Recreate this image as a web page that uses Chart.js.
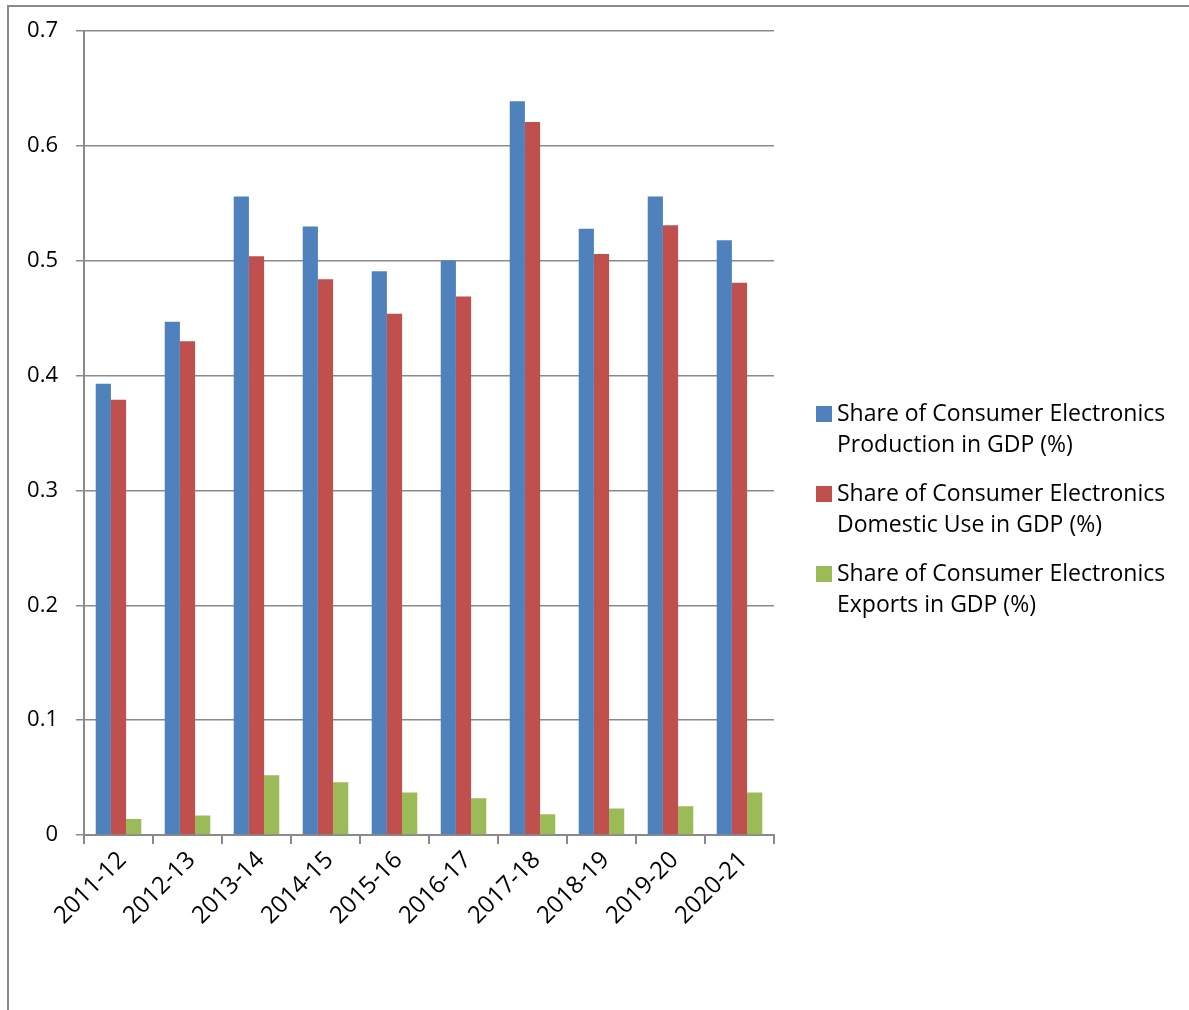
<!DOCTYPE html>
<html>
<head>
<meta charset="utf-8">
<script src="https://cdn.jsdelivr.net/npm/chart.js@4"></script>
<style>
  html, body { margin: 0; padding: 0; background: #fff; }
  #wrap { position: relative; width: 1189px; height: 1010px; overflow: hidden; }
  #frame {
    position: absolute; left: 7px; top: 5px; width: 1200px; height: 1100px;
    border-left: 2px solid #8a8a8a; border-top: 2px solid #8a8a8a;
  }
  canvas { position: absolute; left: 0; top: 0; }
</style>
</head>
<body>
<div id="wrap">
  <div id="frame"></div>
  <canvas id="chart" width="1189" height="1010"></canvas>
</div>
<script>
// categorías y series
const years = ['2011-12', '2012-13', '2013-14', '2014-15', '2015-16',
               '2016-17', '2017-18', '2018-19', '2019-20', '2020-21'];
const production = [0.393, 0.447, 0.556, 0.530, 0.491, 0.500, 0.639, 0.528, 0.556, 0.518];
const domesticUse = [0.379, 0.430, 0.504, 0.484, 0.454, 0.469, 0.621, 0.506, 0.531, 0.481];
const exportsGdp = [0.014, 0.017, 0.052, 0.046, 0.037, 0.032, 0.018, 0.023, 0.025, 0.037];
const legendLines = [
  ['Share of Consumer Electronics', 'Production in GDP (%)'],
  ['Share of Consumer Electronics', 'Domestic Use in GDP (%)'],
  ['Share of Consumer Electronics', 'Exports in GDP (%)']
];

const FONT = '"Open Sans", sans-serif';
const gridColor = '#8a8a8a';

// leyenda dibujada a mano a la derecha
const sideLegend = {
  id: 'sideLegend',
  afterDraw(chart) {
    const ctx = chart.ctx;
    ctx.save();
    ctx.font = '23px ' + FONT;
    ctx.textBaseline = 'middle';
    chart.data.datasets.forEach((ds, i) => {
      const y = 414 + i * 80;
      ctx.fillStyle = ds.backgroundColor;
      ctx.fillRect(816, y - 8, 16, 16);
      ctx.fillStyle = '#000';
      legendLines[i].forEach((line, j) => {
        ctx.fillText(line, 837, y + j * 31);
      });
    });
    ctx.restore();
  }
};

new Chart(document.getElementById('chart'), {
  type: 'bar',
  data: {
    labels: years,
    datasets: [
      { label: legendLines[0].join(' '), data: production, backgroundColor: '#4f81bd' },
      { label: legendLines[1].join(' '), data: domesticUse, backgroundColor: '#c0504d' },
      { label: legendLines[2].join(' '), data: exportsGdp, backgroundColor: '#9bbb59' }
    ]
  },
  options: {
    responsive: false,
    animation: false,
    layout: { padding: { top: 29, right: 415, bottom: 0, left: 0 } },
    datasets: { bar: { categoryPercentage: 0.66, barPercentage: 1 } },
    plugins: {
      legend: { display: false },
      tooltip: { enabled: false }
    },
    scales: {
      x: {
        afterFit: s => { s.height = 175; },
        grid: { drawOnChartArea: false, color: gridColor, lineWidth: 2, tickLength: 9 },
        border: { color: gridColor, width: 2 },
        ticks: {
          color: '#000', font: { family: FONT, size: 24 },
          minRotation: 45, maxRotation: 45, padding: 2, labelOffset: 4
        }
      },
      y: {
        min: 0, max: 0.7,
        afterFit: s => { s.width = 84; },
        grid: { color: gridColor, lineWidth: 1.5, tickLength: 8 },
        border: { color: gridColor, width: 2 },
        ticks: {
          stepSize: 0.1, color: '#000', padding: 18,
          font: { family: FONT, size: 22 },
          callback: v => Math.round(v * 10) / 10
        }
      }
    }
  },
  plugins: [sideLegend]
});
</script>
</body>
</html>
